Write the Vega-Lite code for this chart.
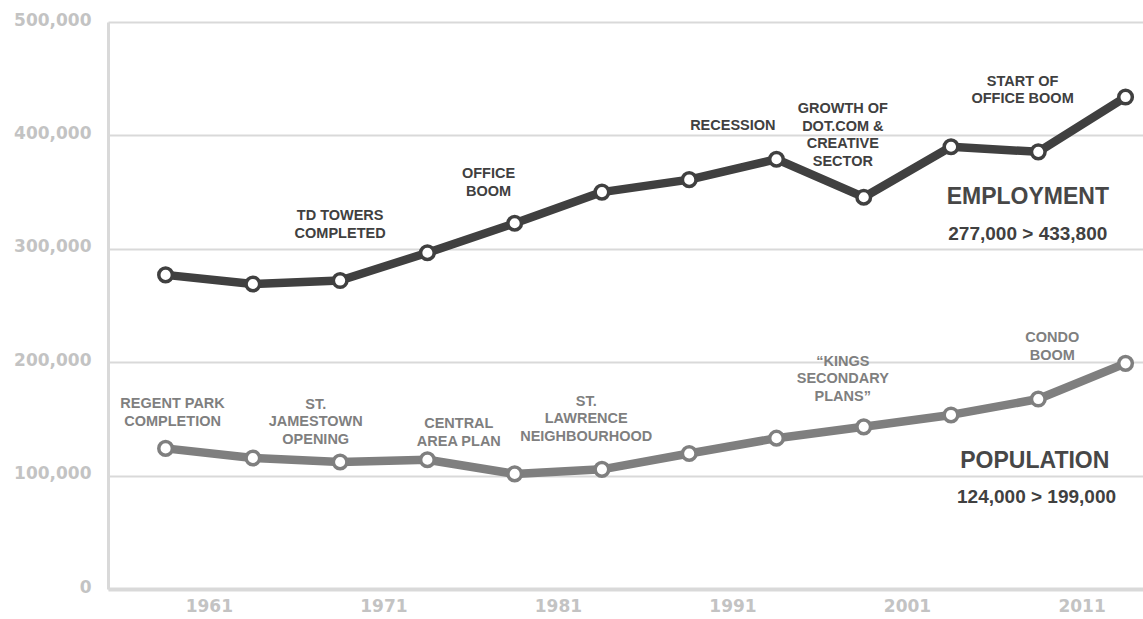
{
  "$schema": "https://vega.github.io/schema/vega-lite/v6.json",
  "width": 1035,
  "height": 567,
  "autosize": {"type": "none"},
  "padding": {"left": 108, "top": 22, "right": 0, "bottom": 30},
  "background": "white",
  "config": {"view": {"stroke": null}},
  "datasets": {
    "series": [
      {"year": 1956, "value": 277000, "series": "Employment"},
      {"year": 1961, "value": 269000, "series": "Employment"},
      {"year": 1966, "value": 272000, "series": "Employment"},
      {"year": 1971, "value": 296500, "series": "Employment"},
      {"year": 1976, "value": 322500, "series": "Employment"},
      {"year": 1981, "value": 350000, "series": "Employment"},
      {"year": 1986, "value": 361000, "series": "Employment"},
      {"year": 1991, "value": 379000, "series": "Employment"},
      {"year": 1996, "value": 345500, "series": "Employment"},
      {"year": 2001, "value": 390000, "series": "Employment"},
      {"year": 2006, "value": 385500, "series": "Employment"},
      {"year": 2011, "value": 433800, "series": "Employment"},
      {"year": 1956, "value": 124000, "series": "Population"},
      {"year": 1961, "value": 115500, "series": "Population"},
      {"year": 1966, "value": 112000, "series": "Population"},
      {"year": 1971, "value": 114000, "series": "Population"},
      {"year": 1976, "value": 101500, "series": "Population"},
      {"year": 1981, "value": 105500, "series": "Population"},
      {"year": 1986, "value": 119500, "series": "Population"},
      {"year": 1991, "value": 133000, "series": "Population"},
      {"year": 1996, "value": 143000, "series": "Population"},
      {"year": 2001, "value": 153500, "series": "Population"},
      {"year": 2006, "value": 167500, "series": "Population"},
      {"year": 2011, "value": 199000, "series": "Population"}
    ],
    "notes": [
      {"year": 1966, "value": 328900, "series": "Employment", "label": "TD TOWERS\nCOMPLETED"},
      {"year": 1974.5, "value": 365900, "series": "Employment", "label": "OFFICE\nBOOM"},
      {"year": 1988.5, "value": 408500, "series": "Employment", "label": "RECESSION"},
      {"year": 1994.8, "value": 423000, "series": "Employment", "label": "GROWTH OF\nDOT.COM &\nCREATIVE\nSECTOR"},
      {"year": 2005.1, "value": 447100, "series": "Employment", "label": "START OF\nOFFICE BOOM"},
      {"year": 1956.4, "value": 163100, "series": "Population", "label": "REGENT PARK\nCOMPLETION"},
      {"year": 1964.6, "value": 162300, "series": "Population", "label": "ST.\nJAMESTOWN\nOPENING"},
      {"year": 1972.8, "value": 145500, "series": "Population", "label": "CENTRAL\nAREA PLAN"},
      {"year": 1980.1, "value": 165300, "series": "Population", "label": "ST.\nLAWRENCE\nNEIGHBOURHOOD"},
      {"year": 1994.8, "value": 200400, "series": "Population", "label": "“KINGS\nSECONDARY\nPLANS”"},
      {"year": 2006.8, "value": 221100, "series": "Population", "label": "CONDO\nBOOM"}
    ],
    "titles": [
      {"year": 2005.4, "value": 345400, "label": "EMPLOYMENT"},
      {"year": 2005.8, "value": 113100, "label": "POPULATION"}
    ],
    "ranges": [
      {"year": 2005.4, "value": 313000, "label": "277,000 > 433,800"},
      {"year": 2005.9, "value": 80900, "label": "124,000 > 199,000"}
    ]
  },
  "encoding": {
    "x": {
      "field": "year",
      "type": "quantitative",
      "scale": {"domain": [1952.7, 2012], "nice": false, "zero": false},
      "axis": {
        "title": null,
        "values": [1961, 1971, 1981, 1991, 2001, 2011],
        "format": "d",
        "labelOffset": -44,
        "ticks": false,
        "grid": false,
        "domainColor": "#d9d9d9",
        "domainWidth": 4,
        "labelFont": "DejaVu Sans",
        "labelFontWeight": "bold",
        "labelFontSize": 17,
        "labelColor": "#c3c3c3",
        "labelPadding": 9
      }
    },
    "y": {
      "field": "value",
      "type": "quantitative",
      "scale": {"domain": [0, 500000], "nice": false},
      "axis": {
        "title": null,
        "values": [0, 100000, 200000, 300000, 400000, 500000],
        "format": ",.0f",
        "ticks": false,
        "grid": true,
        "gridColor": "#d9d9d9",
        "gridWidth": 2,
        "domainColor": "#d9d9d9",
        "domainWidth": 3,
        "labelFont": "DejaVu Sans",
        "labelFontWeight": "bold",
        "labelFontSize": 17,
        "labelColor": "#c3c3c3",
        "labelPadding": 17,
        "labelBaseline": "middle",
        "labelOffset": -2
      }
    }
  },
  "layer": [
    {
      "data": {"name": "series"},
      "mark": {"type": "line", "strokeWidth": 8.5, "strokeJoin": "round"},
      "encoding": {
        "color": {"field": "series", "type": "nominal", "scale": {"domain": ["Employment", "Population"], "range": ["#404040", "#7f7f7f"]}, "legend": null},
        "detail": {"field": "series"}
      }
    },
    {
      "data": {"name": "series"},
      "mark": {"type": "point", "filled": false, "fill": "white", "fillOpacity": 1, "opacity": 1, "size": 185, "strokeWidth": 3.5},
      "encoding": {
        "stroke": {"field": "series", "type": "nominal", "scale": {"domain": ["Employment", "Population"], "range": ["#404040", "#7f7f7f"]}, "legend": null}
      }
    },
    {
      "data": {"name": "notes"},
      "mark": {"type": "text", "font": "Liberation Sans", "fontWeight": "bold", "fontSize": 14.5, "lineHeight": 17.5, "lineBreak": "\n", "align": "center", "baseline": "middle"},
      "encoding": {
        "text": {"field": "label"},
        "color": {"field": "series", "type": "nominal", "scale": {"domain": ["Employment", "Population"], "range": ["#404040", "#7f7f7f"]}, "legend": null}
      }
    },
    {
      "data": {"name": "titles"},
      "mark": {"type": "text", "font": "Liberation Sans", "fontWeight": "bold", "fontSize": 23, "align": "center", "baseline": "middle", "color": "#474747"},
      "encoding": {"text": {"field": "label"}}
    },
    {
      "data": {"name": "ranges"},
      "mark": {"type": "text", "font": "Liberation Sans", "fontWeight": "bold", "fontSize": 19, "align": "center", "baseline": "middle", "color": "#404040"},
      "encoding": {"text": {"field": "label"}}
    }
  ]
}
